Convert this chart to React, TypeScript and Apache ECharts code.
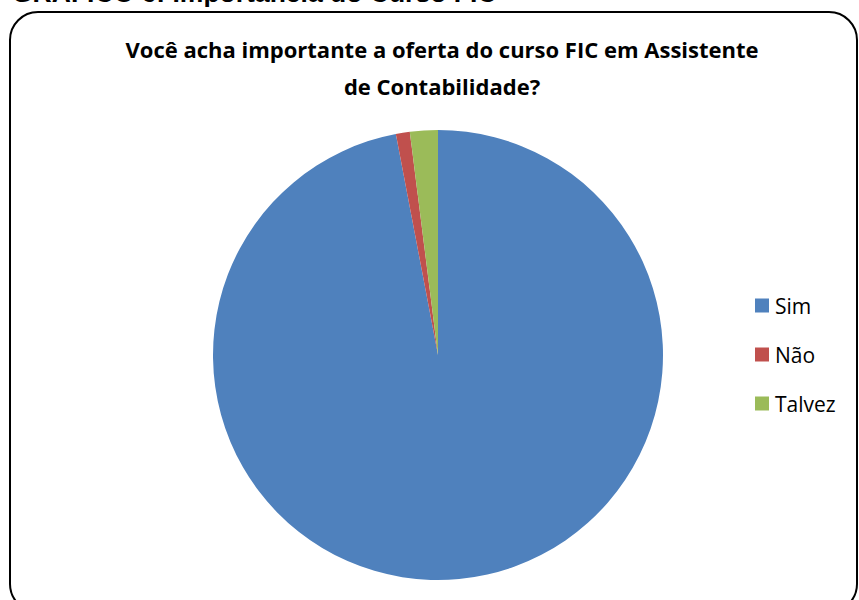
import React, { useEffect, useRef } from "react";
import * as echarts from "echarts";

const categories = ["Sim", "Não", "Talvez"];
const values = [97, 1, 2];
const colors = ["#4F81BD", "#C0504D", "#9BBB59"];
const titleLines = ["Você acha importante a oferta do curso FIC em Assistente", "de Contabilidade?"];
const headerText = "GRÁFICO 6: Importância do Curso FIC";

export default function App() {
  const ref = useRef<HTMLDivElement>(null);
  useEffect(() => {
    if (!ref.current) return;
    const chart = echarts.init(ref.current, null, { renderer: "svg" });
    chart.setOption({
      animation: false,
      backgroundColor: "#ffffff",
      title: {
        text: titleLines.join("\n"),
        left: 437,
        textAlign: "center",
        top: 25,
        textStyle: {
          fontFamily: "Open Sans",
          fontWeight: "bold",
          fontSize: 22,
          lineHeight: 37,
          color: "#000",
        },
      },
      legend: {
        orient: "vertical",
        left: 750,
        top: 290,
        itemWidth: 14,
        itemHeight: 14,
        itemGap: 28,
        icon: "rect",
        data: categories,
        textStyle: { fontFamily: "Open Sans", fontSize: 21, color: "#000", padding: [0, 0, 0, 1] },
      },
      graphic: [
        {
          type: "rect",
          shape: { x: 10, y: 12, width: 847, height: 600, r: 28 },
          style: { fill: "none", stroke: "#000", lineWidth: 2 },
          silent: true,
          z: 0,
        },
        {
          type: "text",
          x: 12,
          y: 6,
          style: {
            text: headerText,
            fontFamily: "Liberation Sans",
            fontWeight: "bold",
            fontSize: 26.5,
            fill: "#000",
            verticalAlign: "bottom",
          },
          z: 10,
        },
      ],
      series: [
        {
          type: "pie",
          center: [438, 355],
          radius: 225,
          startAngle: 90,
          clockwise: true,
          label: { show: false },
          labelLine: { show: false },
          emphasis: { disabled: true },
          data: categories.map((c, i) => ({ name: c, value: values[i], itemStyle: { color: colors[i] } })),
        },
      ],
    });
    return () => chart.dispose();
  }, []);
  return <div ref={ref} style={{ position: "fixed", left: 0, top: 0, width: 859, height: 600 }} />;
}
